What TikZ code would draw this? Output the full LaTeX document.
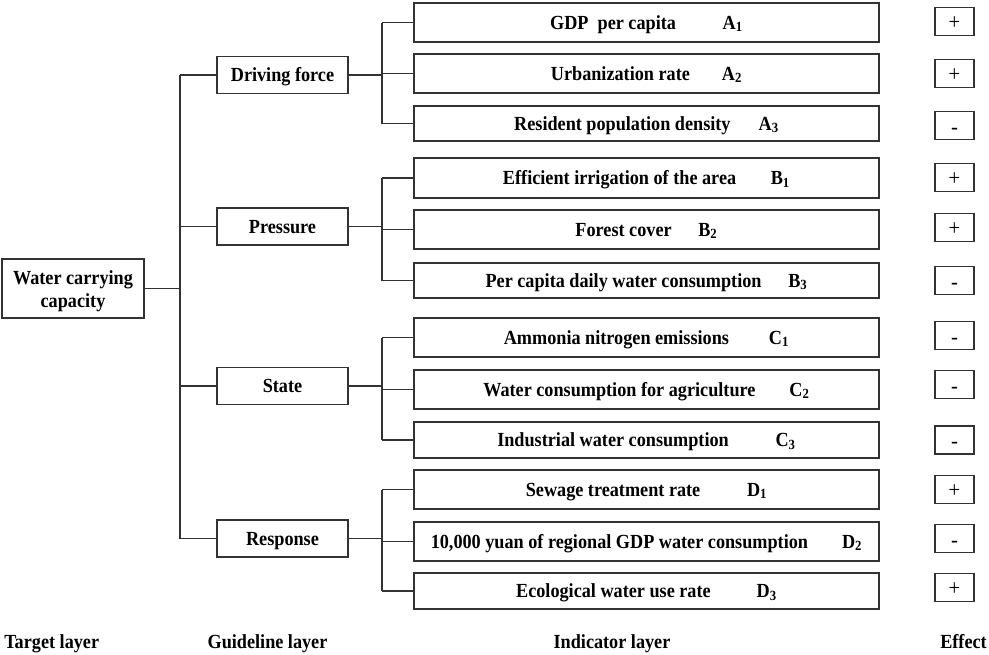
\documentclass[tikz,border=0pt]{standalone}
\usepackage{fontspec}
\setmainfont{Liberation Serif}[FakeStretch=0.91]
\begin{document}
\begin{tikzpicture}[x=0.75pt,y=0.75pt,yscale=-1,xscale=1,
  box/.style={draw=black!80, line width=0.9pt, inner sep=0.75pt, align=center, font=\fontsize{15}{17.25}\selectfont\bfseries},
  guide/.style={box, minimum width=98.25pt, minimum height=27.75pt, text height=9.9pt, text depth=0pt},
  ind/.style={box, minimum width=348.75pt, text height=9.9pt, text depth=0pt},
  effect/.style={draw=black!80, line width=0.9pt, minimum width=29.25pt, minimum height=21pt, inner sep=0pt, text depth=0pt, font=\fontsize{17}{17}\selectfont},
  signplus/.style={effect, text height=12.5pt},
  signminus/.style={effect, text height=13pt},
  link/.style={draw=black!80, line width=0.9pt},
  layer/.style={inner sep=0.75pt, text height=9.9pt, text depth=0pt, font=\fontsize{15}{17}\selectfont\bfseries}
]
\useasboundingbox (0,0) rectangle (989,654);

%Shape: Rectangle [target]
\draw (73,288.5) node [box, minimum width=106.5pt, minimum height=44.25pt, text height=28.8pt, text depth=0pt] (root) {Water carrying\\capacity};

%Shape: Rectangle [guideline]
\draw (282.5,75) node [guide] (drive) {Driving force};
\draw (282.5,226.5) node [guide] (press) {Pressure};
\draw (282.5,386) node [guide] (state) {State};
\draw (282.5,538.5) node [guide] (resp) {Response};

%Shape: Rectangle [indicator]
\draw (646.5,22.5) node [ind, minimum height=29.25pt] (a1) {GDP\ \ per capita\hspace{35pt}A\textsubscript{1}};
\draw (646.5,73.5) node [ind, minimum height=29.25pt] (a2) {Urbanization rate\hspace{24pt}A\textsubscript{2}};
\draw (646.5,123.5) node [ind, minimum height=26.25pt] (a3) {Resident population density\hspace{21pt}A\textsubscript{3}};
\draw (646.5,178) node [ind, minimum height=30pt] (b1) {Efficient irrigation of the area\hspace{26pt}B\textsubscript{1}};
\draw (646.5,229.5) node [ind, minimum height=29.25pt] (b2) {Forest cover\hspace{20pt}B\textsubscript{2}};
\draw (646.5,280.5) node [ind, minimum height=26.25pt] (b3) {Per capita daily water consumption\hspace{20pt}B\textsubscript{3}};
\draw (646.5,337.5) node [ind, minimum height=29.25pt] (c1) {Ammonia nitrogen emissions\hspace{30pt}C\textsubscript{1}};
\draw (646.5,389.5) node [ind, minimum height=29.25pt] (c2) {Water consumption for agriculture\hspace{25.5pt}C\textsubscript{2}};
\draw (646.5,440) node [ind, minimum height=27pt] (c3) {Industrial water consumption\hspace{35pt}C\textsubscript{3}};
\draw (646.5,489.5) node [ind, minimum height=29.25pt] (d1) {Sewage treatment rate\hspace{35pt}D\textsubscript{1}};
\draw (646.5,541.5) node [ind, minimum height=29.25pt] (d2) {10,000 yuan of regional GDP water consumption\hspace{25.5pt}D\textsubscript{2}};
\draw (646.5,591) node [ind, minimum height=27pt] (d3) {Ecological water use rate\hspace{34.5pt}D\textsubscript{3}};

%Shape: Rectangle [effect]
\draw (954.5,21.5) node [signplus] (ea1) {+};
\draw (954.5,73.5) node [signplus] (ea2) {+};
\draw (954.5,125.5) node [signminus] (ea3) {-};
\draw (954.5,177.5) node [signplus] (eb1) {+};
\draw (954.5,227.5) node [signplus] (eb2) {+};
\draw (954.5,280.5) node [signminus] (eb3) {-};
\draw (954.5,335.5) node [signminus] (ec1) {-};
\draw (954.5,384.5) node [signminus] (ec2) {-};
\draw (954.5,440) node [signminus] (ec3) {-};
\draw (954.5,489.5) node [signplus] (ed1) {+};
\draw (954.5,538.5) node [signminus] (ed2) {-};
\draw (954.5,587.5) node [signplus] (ed3) {+};

%Straight Lines [target to guideline]
\coordinate (trunk) at (180,0);
\draw [link] (root.east) -- (root.east -| trunk);
\draw [link] (drive.west -| trunk) -- (resp.west -| trunk);
\draw [link] (drive.west) -- (drive.west -| trunk);
\draw [link] (press.west) -- (press.west -| trunk);
\draw [link] (state.west) -- (state.west -| trunk);
\draw [link] (resp.west) -- (resp.west -| trunk);

%Straight Lines [guideline to indicator]
\coordinate (fork) at (382,0);
\draw [link] (drive.east) -- (drive.east -| fork);
\draw [link] (a1.west -| fork) -- (a3.west -| fork);
\draw [link] (a1.west) -- (a1.west -| fork);
\draw [link] (a2.west) -- (a2.west -| fork);
\draw [link] (a3.west) -- (a3.west -| fork);
\draw [link] (press.east) -- (press.east -| fork);
\draw [link] (b1.west -| fork) -- (b3.west -| fork);
\draw [link] (b1.west) -- (b1.west -| fork);
\draw [link] (b2.west) -- (b2.west -| fork);
\draw [link] (b3.west) -- (b3.west -| fork);
\draw [link] (state.east) -- (state.east -| fork);
\draw [link] (c1.west -| fork) -- (c3.west -| fork);
\draw [link] (c1.west) -- (c1.west -| fork);
\draw [link] (c2.west) -- (c2.west -| fork);
\draw [link] (c3.west) -- (c3.west -| fork);
\draw [link] (resp.east) -- (resp.east -| fork);
\draw [link] (d1.west -| fork) -- (d3.west -| fork);
\draw [link] (d1.west) -- (d1.west -| fork);
\draw [link] (d2.west) -- (d2.west -| fork);
\draw [link] (d3.west) -- (d3.west -| fork);

% Text Node
\draw (3,642) node [layer, anchor=west] (tlayer) {Target layer};
% Text Node
\draw (267.5,642) node [layer] (glayer) {Guideline layer};
% Text Node
\draw (612,642) node [layer] (ilayer) {Indicator layer};
% Text Node
\draw (963.5,642) node [layer] (elayer) {Effect};

\end{tikzpicture}
\end{document}
